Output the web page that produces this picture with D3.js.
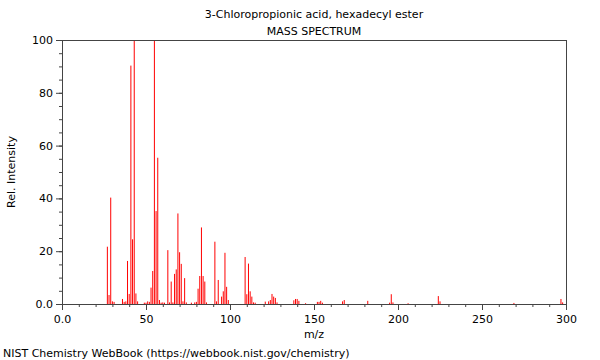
<!DOCTYPE html>
<html>
<head>
<meta charset="utf-8">
<script src="https://cdn.jsdelivr.net/npm/d3@7"></script>
<style>
  body { margin: 0; background: #fff; }
  text { font-family: "DejaVu Sans", sans-serif; }
</style>
</head>
<body>
<div id="chart"></div>
<script>
// Data
var mzValues = [27, 28, 29, 30, 31, 36, 37, 38, 39, 40, 41, 42, 43, 44, 45,
  49, 50, 51, 52, 53, 54, 55, 56, 57, 58, 59, 60, 61,
  63, 64, 65, 66, 67, 68, 69, 70, 71, 72, 73, 74, 77, 79, 80,
  81, 82, 83, 84, 85, 86, 91, 92, 93, 95, 96, 97, 98, 99,
  109, 110, 111, 112, 113, 114, 115, 121, 123, 124, 125, 126, 127, 128,
  138, 139, 140, 141, 145, 152, 153, 154, 155, 167, 168, 182,
  195, 196, 197, 206, 224, 225, 269, 297, 298];
var intensities = [21.7, 3.4, 40.3, 1.0, 0.8, 1.9, 0.8, 1.0, 16.3, 3.8, 90.3, 24.5, 100, 4.0, 1.0,
  0.5, 0.5, 1.0, 0.8, 6.2, 12.5, 100, 35.2, 55.4, 1.5, 0.5, 0.6, 0.5,
  20.4, 0.6, 8.5, 0.6, 11.4, 13.1, 34.3, 19.6, 15.2, 1.0, 9.8, 0.6, 0.5, 0.6, 0.8,
  5.8, 10.6, 29.0, 10.6, 8.5, 0.6, 23.6, 1.0, 9.1, 2.8, 4.8, 19.4, 6.5, 1.5,
  17.8, 3.7, 15.3, 4.8, 2.8, 0.6, 0.5, 0.9, 1.0, 1.5, 3.8, 2.8, 2.3, 0.6,
  1.4, 1.9, 1.9, 1.2, 0.3, 0.8, 0.8, 1.2, 0.5, 1.0, 1.5, 1.2,
  0.5, 3.7, 0.6, 0.3, 3.0, 1.0, 0.4, 1.9, 0.6];

var xTicks = [0, 50, 100, 150, 200, 250, 300];
var xTickLabels = ["0.0", "50", "100", "150", "200", "250", "300"];
var yTicks = [0, 20, 40, 60, 80, 100];
var yTickLabels = ["0.0", "20", "40", "60", "80", "100"];

var title = "3-Chloropropionic acid, hexadecyl ester";
var subtitle = "MASS SPECTRUM";
var footer = "NIST Chemistry WebBook (https://webbook.nist.gov/chemistry)";

// Chart set up
var svgWidth = 600;
var svgHeight = 360;
var margin = { top: 40, right: 34, bottom: 56, left: 62 };
var width = svgWidth - margin.left - margin.right;
var height = svgHeight - margin.top - margin.bottom;

var svg = d3.select("#chart")
  .append("svg")
  .attr("width", svgWidth)
  .attr("height", svgHeight);

var chartGroup = svg.append("g")
  .attr("transform", `translate(${margin.left}, ${margin.top})`);

var xScale = d3.scaleLinear().domain([0, 300]).range([0, width]);
var yScale = d3.scaleLinear().domain([0, 100]).range([height, 0]);

var peaks = mzValues.map(function(m, i) { return { mz: m, val: intensities[i] }; });

// Peaks
chartGroup.selectAll(".peak")
  .data(peaks)
  .enter()
  .append("line")
  .attr("class", "peak")
  .attr("x1", d => xScale(d.mz))
  .attr("x2", d => xScale(d.mz))
  .attr("y1", yScale(0))
  .attr("y2", d => yScale(d.val))
  .attr("stroke", "#ff0000")
  .attr("stroke-width", 1);

// Minor ticks
chartGroup.append("g")
  .attr("transform", `translate(0, ${height})`)
  .call(d3.axisBottom(xScale).tickValues(d3.range(0, 301, 10)).tickSize(3).tickFormat(""))
  .call(g => g.select(".domain").remove());

chartGroup.append("g")
  .call(d3.axisLeft(yScale).tickValues(d3.range(0, 101, 5)).tickSize(3).tickFormat(""))
  .call(g => g.select(".domain").remove());

// Major axes
var xAxis = chartGroup.append("g")
  .attr("transform", `translate(0, ${height})`)
  .call(d3.axisBottom(xScale).tickValues(xTicks).tickSize(6).tickPadding(5)
    .tickFormat((d, i) => xTickLabels[i]));

var yAxis = chartGroup.append("g")
  .call(d3.axisLeft(yScale).tickValues(yTicks).tickSize(6).tickPadding(3)
    .tickFormat((d, i) => yTickLabels[i]));

chartGroup.selectAll(".tick line").attr("stroke", "#444");
chartGroup.selectAll(".domain").attr("stroke", "#444");
chartGroup.selectAll(".tick text")
  .attr("font-family", "DejaVu Sans, sans-serif")
  .attr("font-size", "11px")
  .attr("fill", "#000");

// Frame top and right
chartGroup.append("line")
  .attr("x1", 0).attr("x2", width).attr("y1", 0.5).attr("y2", 0.5)
  .attr("stroke", "#444");
chartGroup.append("line")
  .attr("x1", width + 0.5).attr("x2", width + 0.5).attr("y1", 0).attr("y2", height)
  .attr("stroke", "#444");

// Labels
svg.append("text")
  .attr("x", margin.left + width / 2)
  .attr("y", 18)
  .attr("text-anchor", "middle")
  .attr("font-size", "11px")
  .text(title);

svg.append("text")
  .attr("x", margin.left + width / 2)
  .attr("y", 35)
  .attr("text-anchor", "middle")
  .attr("font-size", "11px")
  .text(subtitle);

svg.append("text")
  .attr("x", margin.left + width / 2)
  .attr("y", 338)
  .attr("text-anchor", "middle")
  .attr("font-size", "11px")
  .text("m/z");

svg.append("text")
  .attr("transform", "rotate(-90)")
  .attr("x", -(margin.top + height / 2))
  .attr("y", 15)
  .attr("text-anchor", "middle")
  .attr("font-size", "11px")
  .text("Rel. Intensity");

svg.append("text")
  .attr("x", 3)
  .attr("y", 357)
  .attr("font-size", "11px")
  .text(footer);
</script>
</body>
</html>
